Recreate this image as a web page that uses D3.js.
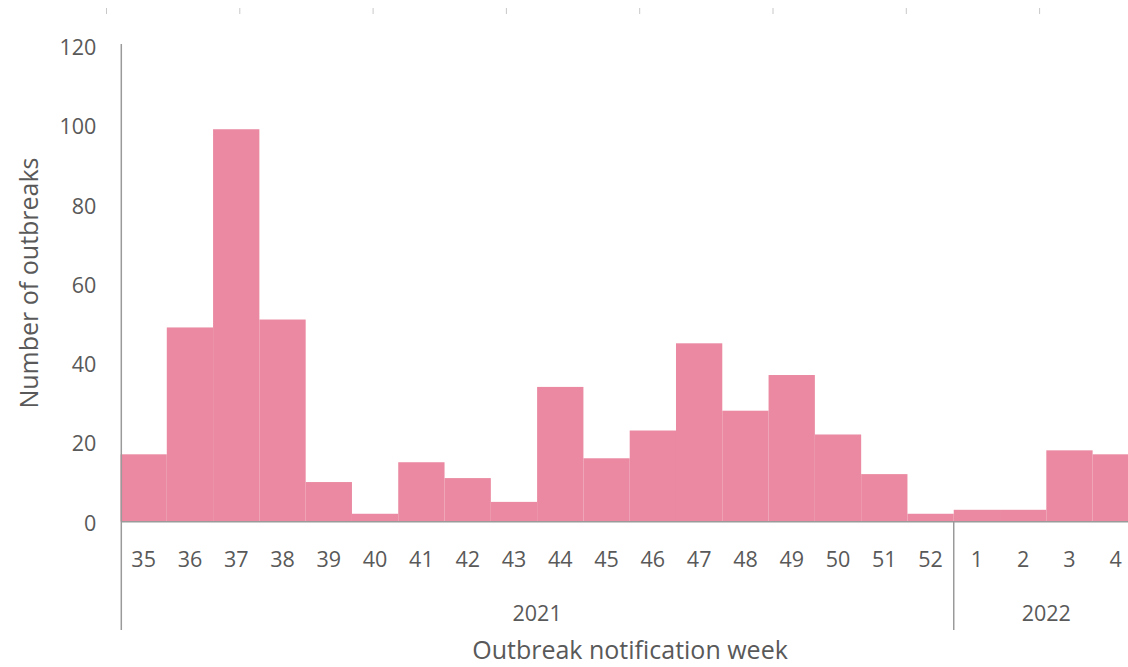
<!DOCTYPE html>
<html>
<head>
<meta charset="utf-8">
<script src="https://cdn.jsdelivr.net/npm/d3@7"></script>
<style>
  html, body { margin: 0; padding: 0; background: #fff; }
  svg { display: block; }
  text { font-family: "Open Sans", "Noto Sans", sans-serif; fill: #595959; }
</style>
</head>
<body>
<svg id="chart" width="1128" height="667"></svg>
<script>
// ---- data ----
const weeks = ["35","36","37","38","39","40","41","42","43","44","45","46","47","48","49","50","51","52","1","2","3","4"];
const years = ["2021","2021","2021","2021","2021","2021","2021","2021","2021","2021","2021","2021","2021","2021","2021","2021","2021","2021","2022","2022","2022","2022"];
const outbreaks = [17, 49, 99, 51, 10, 2, 15, 11, 5, 34, 16, 23, 45, 28, 37, 22, 12, 2, 3, 3, 18, 17];
const yTicks = [0, 20, 40, 60, 80, 100, 120];
const yearGroups = ["2021", "2022"];
const topMarks = [0, 1, 2, 3, 4, 5, 6, 7];

const svg = d3.select("#chart");
const keys = weeks.map((w, i) => years[i] + "-" + w);
const tickFont = 21.5, titleFont = 25;

const x = d3.scaleBand().domain(keys).range([120.5, 1138.9]).padding(0);
const y = d3.scaleLinear().domain([0, 120]).range([521.7, 46]);

// faint tick marks along top edge
const topScale = d3.scaleLinear().domain([0, 1]).range([106.5, 239.8]);
svg.append("g").selectAll("line").data(topMarks).join("line")
  .attr("x1", d => topScale(d)).attr("x2", d => topScale(d))
  .attr("y1", 8).attr("y2", 14)
  .attr("stroke", "#c8c8c8").attr("stroke-width", 1);

// bars
svg.append("g").selectAll("rect").data(outbreaks).join("rect")
  .attr("x", (d, i) => x(keys[i]))
  .attr("width", x.bandwidth())
  .attr("y", d => y(d))
  .attr("height", d => y(0) - y(d))
  .attr("fill", "#EA89A1");

// y axis
const yAxis = d3.axisLeft(y).tickValues(yTicks).tickSize(0).tickPadding(25).tickFormat(d3.format("d"));
const gy = svg.append("g").attr("transform", "translate(121.3,0)").call(yAxis);
gy.select(".domain").remove();
gy.selectAll("text").attr("font-size", tickFont).attr("dy", null).attr("dominant-baseline", "central")
  .style("font-family", "\"Open Sans\", sans-serif").attr("fill", "#595959");
svg.append("line").attr("x1", 121.3).attr("x2", 121.3).attr("y1", y(120) - 2).attr("y2", 630)
  .attr("stroke", "#9a9a9a").attr("stroke-width", 1.5);

// x axis baseline
svg.append("line").attr("x1", 121.3).attr("x2", 1128).attr("y1", y(0)).attr("y2", y(0))
  .attr("stroke", "#9a9a9a").attr("stroke-width", 1.5);

// week labels
const xAxis = d3.axisBottom(x).tickSize(0).tickPadding(37).tickFormat((d, i) => weeks[i]);
const gx = svg.append("g").attr("transform", `translate(0,${y(0)})`).call(xAxis);
gx.select(".domain").remove();
gx.selectAll("text").attr("font-size", tickFont).attr("dy", null).attr("dominant-baseline", "central")
  .style("font-family", "\"Open Sans\", sans-serif").attr("fill", "#595959");

// year group separators and labels
yearGroups.forEach(yr => {
  const idx = years.map((v, i) => v === yr ? i : -1).filter(i => i >= 0);
  const x0 = x(keys[idx[0]]);
  const x1 = x(keys[idx[idx.length - 1]]) + x.bandwidth();
  if (idx[0] > 0) {
    svg.append("line").attr("x1", x0).attr("x2", x0).attr("y1", y(0)).attr("y2", 630)
      .attr("stroke", "#9a9a9a").attr("stroke-width", 1.5);
  }
  svg.append("text").attr("x", (x0 + x1) / 2).attr("y", 612)
    .attr("text-anchor", "middle").attr("dominant-baseline", "central")
    .attr("font-size", tickFont).text(yr);
});

// axis titles
svg.append("text").attr("x", 630).attr("y", 649)
  .attr("text-anchor", "middle").attr("dominant-baseline", "central")
  .attr("font-size", titleFont).text("Outbreak notification week");
svg.append("text").attr("transform", "translate(28,283) rotate(-90)")
  .attr("text-anchor", "middle").attr("dominant-baseline", "central")
  .attr("font-size", titleFont).text("Number of outbreaks");
</script>
</body>
</html>
